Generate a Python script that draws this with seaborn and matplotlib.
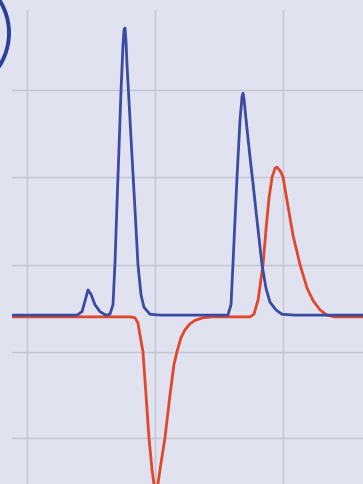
import numpy as np
import pandas as pd
import seaborn as sns
import matplotlib
matplotlib.use('Agg')
import matplotlib.pyplot as plt
from matplotlib.patches import Circle

# blue trace (time, signal)
blue_t = [-1.17, 2.58, 3.91, 4.30, 4.53, 4.77, 5.00, 5.31, 5.70, 6.17, 6.48, 6.72, 6.88, 7.03, 7.19,
          7.34, 7.50, 7.58, 7.66, 7.73, 7.81, 7.97, 8.20, 8.44, 8.67, 8.91, 9.14, 9.61, 10.39, 15.70,
          15.94, 16.09, 16.25, 16.41, 16.64, 16.80, 16.88, 16.95, 17.11, 17.42, 17.66, 17.97, 18.36,
          18.67, 18.98, 19.45, 19.92, 20.94, 26.25]
blue_s = [0.01, 0.01, 0.01, 0.05, 0.17, 0.30, 0.25, 0.13, 0.05, 0.01, 0.02, 0.13, 0.62, 1.28, 1.93,
          2.57, 3.11, 3.29, 3.31, 3.17, 2.90, 2.47, 1.85, 1.22, 0.59, 0.24, 0.10, 0.02, 0.01, 0.01,
          0.13, 0.59, 1.10, 1.60, 2.25, 2.52, 2.56, 2.50, 2.26, 1.83, 1.52, 1.10, 0.59,
          0.32, 0.16, 0.07, 0.02, 0.01, 0.01]

# red trace (time, signal)
red_t = [-1.17, 8.05, 8.44, 8.67, 8.83, 9.06, 9.30, 9.53, 9.77, 9.92, 10.08, 10.23, 10.47, 10.78,
         11.17, 11.48, 11.72, 12.03, 12.34, 12.73, 13.13, 13.75, 14.45, 17.42, 17.73, 18.05, 18.44,
         18.67, 18.91, 19.14, 19.38, 19.53, 19.77, 20.00, 20.31, 20.78, 21.33, 21.88, 22.34, 22.89,
         23.44, 24.06, 26.25]
red_s = [-0.01, -0.01, -0.02, -0.08, -0.22, -0.41, -0.91, -1.40, -1.77, -1.93, -2.08, -1.93, -1.69, -1.40,
         -0.91, -0.56, -0.41, -0.25, -0.16, -0.09, -0.05, -0.02, -0.01, -0.01, 0.02, 0.18, 0.59,
         0.99, 1.36, 1.59, 1.70, 1.71, 1.67, 1.60, 1.33, 0.93, 0.59, 0.32, 0.18, 0.07,
         0.01, -0.01, -0.01]

x_grid = [0, 10, 20]
y_grid = [-1.40, -0.41, 0.59, 1.60, 2.60]

bg = '#e1e2ef'

sns.set_theme(style='white')

fig = plt.figure(figsize=(3.63, 4.84), dpi=100, facecolor=bg)
ax = fig.add_axes([12/363, 0, 351/363, 474/484])
ax.set_facecolor(bg)

red_df = pd.DataFrame({'t': red_t, 's': red_s})
blue_df = pd.DataFrame({'t': blue_t, 's': blue_s})

sns.lineplot(data=red_df, x='t', y='s', color='#e0472c', lw=2.0, sort=False, estimator=None, ax=ax)
sns.lineplot(data=blue_df, x='t', y='s', color='#3a4ba3', lw=2.0, sort=False, estimator=None, ax=ax)

ax.set_xlim(-1.17, 26.25)
ax.set_ylim(-1.931, 3.517)
ax.set_xticks(x_grid)
ax.set_yticks(y_grid)
ax.grid(True, color='#c4c5d3', lw=1.0)
ax.set_axisbelow(True)
ax.tick_params(length=0, labelbottom=False, labelleft=False)
ax.set_xlabel('')
ax.set_ylabel('')
for sp in ax.spines.values():
    sp.set_visible(False)

# circled marker at top-left corner
circ = Circle((-0.524, 4.51), 0.614, transform=fig.dpi_scale_trans, fill=False,
              edgecolor='#2a3f9a', lw=2.8)
fig.patches.append(circ)

fig.savefig('out.png', dpi=100, facecolor=bg)
